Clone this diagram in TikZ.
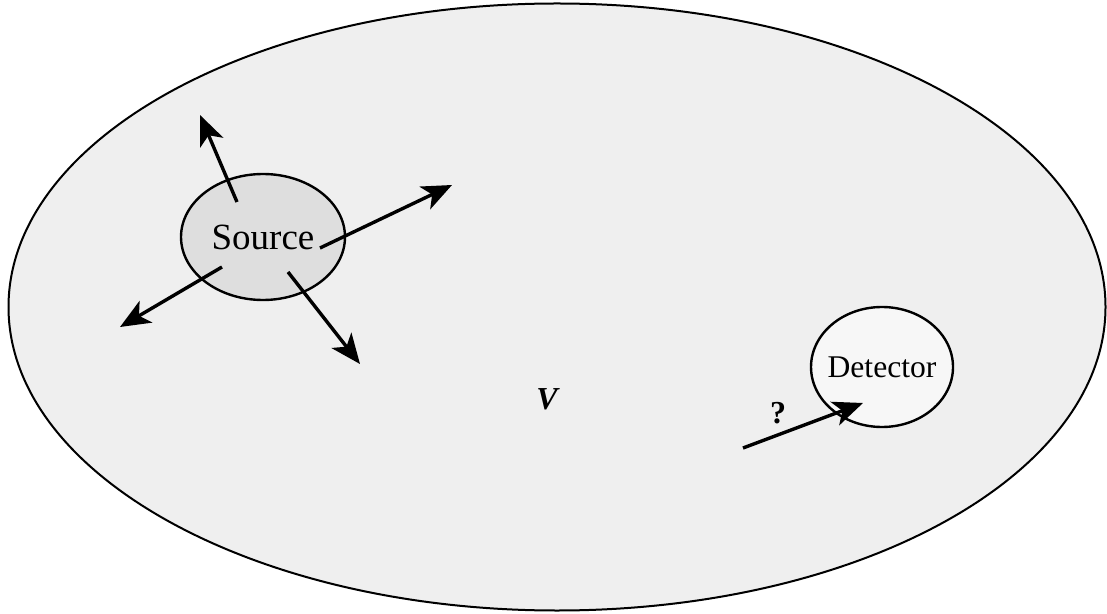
\documentclass[tikz,border=0pt]{standalone}
\usepackage{fontspec}
\setmainfont{Liberation Serif}
\usetikzlibrary{shapes.geometric, arrows.meta, calc}
\definecolor{volbg}{HTML}{EFEFEF}
\definecolor{srcbg}{HTML}{DEDEDE}
\definecolor{detbg}{HTML}{F7F7F7}

\begin{document}
\begin{tikzpicture}[x=0.5pt, y=-0.5pt,
    region/.style={ellipse, draw=black, line width=1pt, fill=volbg, inner sep=0pt},
    blob/.style={ellipse, draw=black, line width=1.2pt, inner sep=0pt},
    ray/.style={-{Stealth[length=15pt, width=12.5pt, inset=4pt]}, line width=1.7pt, color=black},
]
    \useasboundingbox (0,0) rectangle (1107,614);
    \node[region, minimum width=548.5pt, minimum height=303.5pt] (volume) at (557,307) {};
    \node[blob, fill=srcbg, minimum width=82pt, minimum height=63pt, font=\fontsize{18.5}{20}\selectfont] (source) at (263,237) {Source};
    \node[blob, fill=detbg, minimum width=71pt, minimum height=60pt, inner xsep=-12pt, font=\fontsize{15.8}{17}\selectfont] (detector) at (882,367) {Detector};
    \node[font=\fontsize{16}{18}\selectfont\bfseries\itshape] (vlabel) at (547,399) {V};
    \node[font=\fontsize{16}{18}\selectfont\bfseries] (query) at (778,413) {?};
    % rays leaving the source
    \coordinate (s1) at ($(source)+(-26,-35)$);
    \coordinate (s2) at ($(source)+(57,11)$);
    \coordinate (s3) at ($(source)+(-41,30)$);
    \coordinate (s4) at ($(source)+(25,35)$);
    \coordinate (t1) at (200,115);
    \coordinate (t2) at (452,185);
    \coordinate (t3) at (120,327);
    \coordinate (t4) at (360,364);
    \draw[ray] (s1) -- (t1);
    \draw[ray] (s2) -- (t2);
    \draw[ray] (s3) -- (t3);
    \draw[ray] (s4) -- (t4);
    % ray hitting the detector
    \coordinate (d0) at (743,448);
    \coordinate (d1) at (863,403);
    \draw[ray] (d0) -- (d1);
\end{tikzpicture}
\end{document}
